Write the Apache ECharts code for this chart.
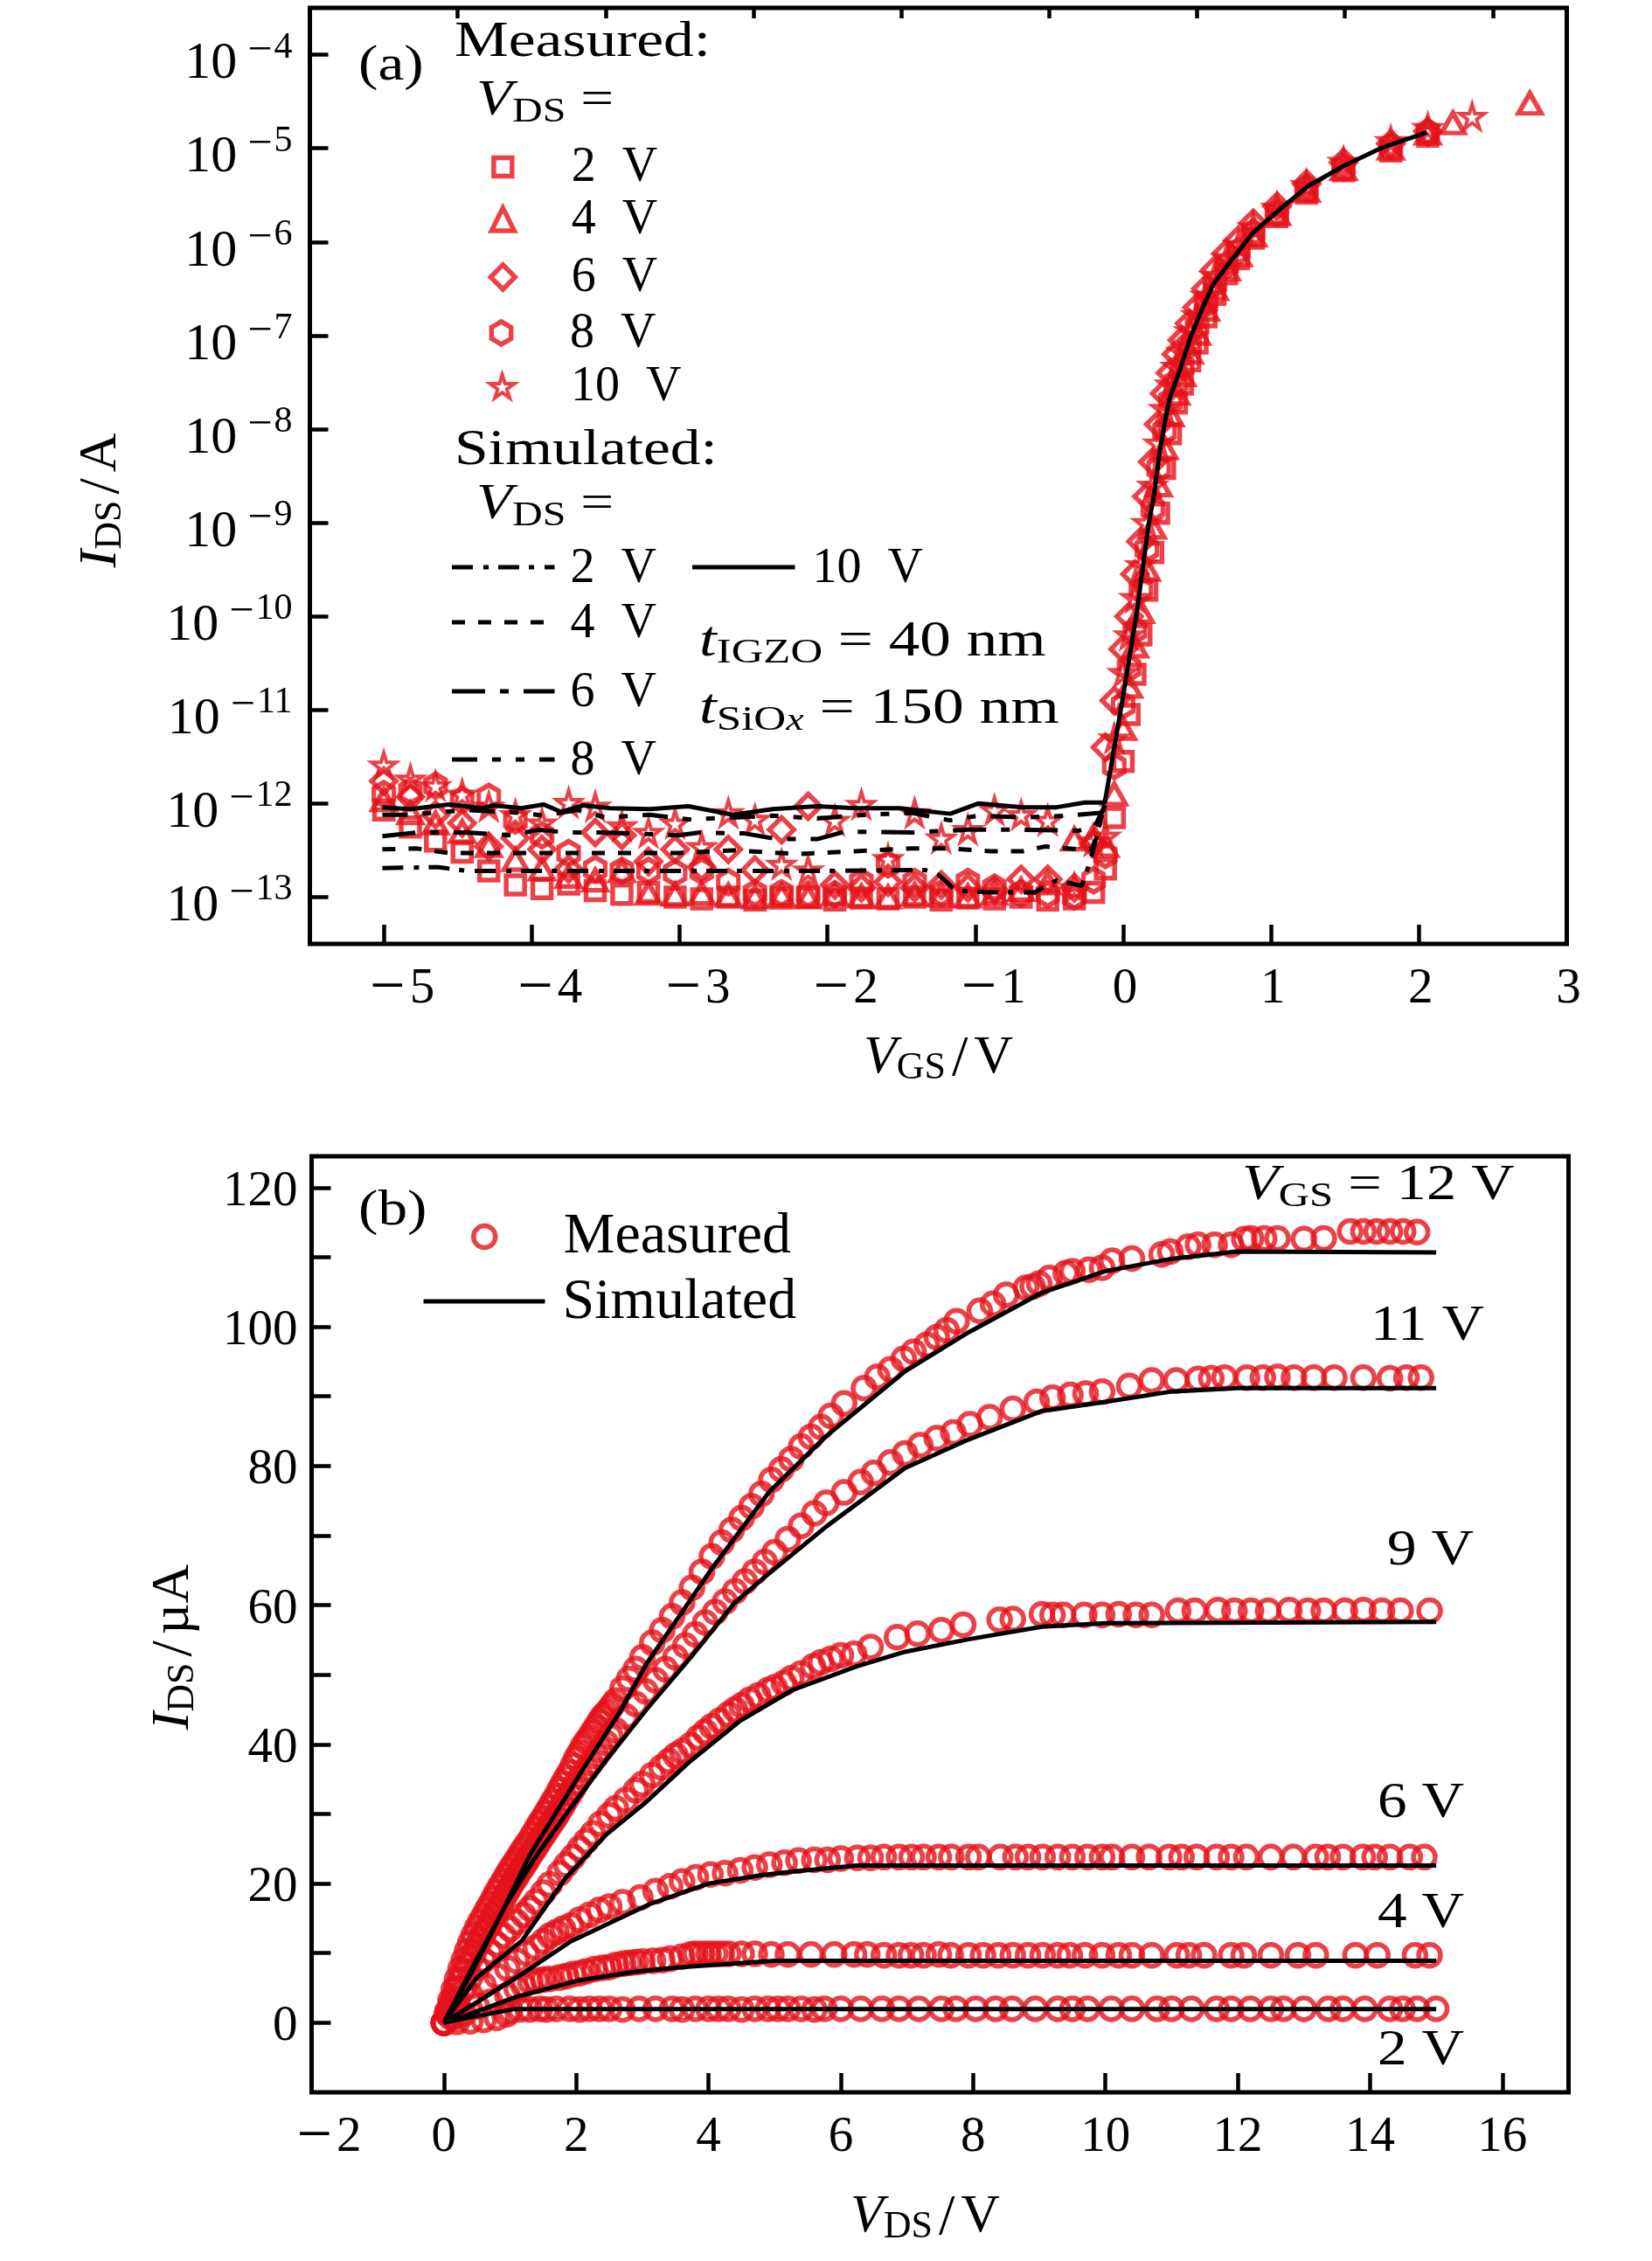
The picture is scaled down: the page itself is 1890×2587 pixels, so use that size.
<![CDATA[<!DOCTYPE html>
<html><head><meta charset="utf-8">
<script src="https://cdn.jsdelivr.net/npm/echarts@6/dist/echarts.min.js"></script>
<style>html,body{margin:0;background:#fff}#c{width:1890px;height:2587px}</style></head>
<body><div id="c"></div>
<script>
// ---------- panel (a): transfer curves, currents given as log10(I / A) ----------
const vgsOff = [-5,-4.82,-4.65,-4.47,-4.29,-4.11,-3.93,-3.75,-3.57,-3.39,-3.21,-3.03,-2.85,-2.67,-2.49,-2.31,-2.13,-1.95,-1.77,-1.59,-1.41,-1.23,-1.05,-0.87,-0.69,-0.51,-0.33,-0.2];
const vgsOn = [-0.12,-0.06,0,0.04,0.08,0.12,0.16,0.2,0.24,0.28,0.32,0.36,0.4,0.45,0.5,0.56,0.62,0.7,0.78,0.88,1.04,1.24,1.49,1.81,2.06];
const logM2 = [-12.07,-12.25,-12.40,-12.52,-12.72,-12.87,-12.91,-12.86,-12.93,-12.97,-12.95,-13.00,-13.02,-13.00,-13.03,-13.01,-13.00,-13.03,-13.01,-13.02,-13.00,-13.03,-13.01,-13.02,-13.00,-13.03,-13.02,-12.95,
  -12.7,-12.15,-11.55,-11.05,-10.62,-10.2,-9.72,-9.32,-8.9,-8.42,-8.05,-7.72,-7.52,-7.27,-7.08,-6.8,-6.56,-6.34,-6.18,-5.96,-5.73,-5.48,-5.24,-5.03,-4.87];
const logM4 = [-11.96,-12.10,-12.21,-12.30,-12.45,-12.60,-12.70,-12.78,-12.82,-12.72,-12.96,-12.97,-12.96,-12.98,-13.00,-12.98,-13.00,-12.97,-12.99,-13.00,-12.97,-12.98,-12.99,-12.96,-12.92,-12.85,-12.38,-12.35,
  -12.45,-11.9,-11.2,-10.75,-10.32,-9.95,-9.5,-9.05,-8.6,-8.2,-7.85,-7.62,-7.42,-7.18,-6.98,-6.72,-6.5,-6.29,-6.14,-5.93,-5.7,-5.45,-5.22,-5.0,-4.84];
const logM6 = [-11.76,-11.93,-12.12,-12.21,-12.46,-12.37,-12.49,-12.70,-12.31,-12.34,-12.62,-12.49,-12.68,-12.49,-12.71,-12.28,-12.03,-12.87,-12.90,-12.84,-12.90,-12.87,-12.90,-12.93,-12.81,-12.81,-12.90,-12.43,
  -11.4,-10.9,-10.35,-10.0,-9.55,-9.2,-8.72,-8.35,-7.95,-7.62,-7.4,-7.2,-7.05,-6.87,-6.7,-6.5,-6.3,-6.12,-5.98,-5.8,-5.62,-5.38,-5.15,-4.95,-4.82];
const logM8 = [-11.90,-11.87,-11.81,-11.96,-11.93,-12.18,-12.34,-12.53,-12.70,-12.72,-12.72,-12.74,-12.72,-12.84,-12.96,-12.96,-12.97,-12.97,-12.84,-12.65,-12.84,-12.96,-12.84,-12.90,-12.96,-12.97,-12.99,-12.82,
  -12.55,-11.6,-10.95,-10.55,-10.15,-9.72,-9.28,-8.85,-8.42,-8.02,-7.7,-7.5,-7.33,-7.1,-6.9,-6.66,-6.45,-6.25,-6.1,-5.9,-5.69,-5.43,-5.2,-4.98,-4.83];
const logM10 = [-11.59,-11.74,-11.81,-11.90,-12.03,-12.12,-12.21,-11.99,-12.03,-12.24,-12.31,-12.21,-12.46,-12.10,-12.17,-12.65,-12.71,-12.18,-12.01,-12.59,-12.10,-12.37,-12.28,-12.07,-12.12,-12.18,-12.90,-12.40,
  -12.35,-11.3,-10.6,-10.2,-9.8,-9.45,-9.0,-8.6,-8.15,-7.78,-7.52,-7.33,-7.17,-6.95,-6.78,-6.57,-6.36,-6.17,-6.03,-5.84,-5.63,-5.39,-5.14,-4.92,-4.78];
const vgsTail4 = [2.23,2.75], logTail4 = [-4.73,-4.52];
const vgsTail10 = [2.36], logTail10 = [-4.66];

const vgsS2 = [-5.01,-4.63,-4.44,-3.69,-2.94,-2.0,-1.34,-1.25,-1.13,-0.9,-0.6,-0.45,-0.28,-0.22,-0.124];
const logS2 = [-12.69,-12.68,-12.72,-12.72,-12.72,-12.72,-12.71,-12.76,-12.93,-12.95,-12.95,-12.82,-12.88,-12.6,-12.02];
const vgsS4 = [-5.01,-4.78,-4.56,-4.26,-3.88,-3.5,-3.01,-2.64,-2.19,-1.81,-1.43,-1.17,-0.9,-0.68,-0.53,-0.3,-0.21,-0.124];
const logS4 = [-12.49,-12.48,-12.53,-12.53,-12.53,-12.53,-12.53,-12.5,-12.54,-12.51,-12.48,-12.48,-12.51,-12.51,-12.46,-12.49,-12.49,-12.02];
const vgsS6 = [-5.01,-4.78,-4.44,-4.14,-3.95,-3.77,-3.54,-3.31,-3.01,-2.86,-2.56,-2.34,-2.07,-1.88,-1.43,-1.05,-0.68,-0.3,-0.19,-0.124];
const logS6 = [-12.35,-12.31,-12.31,-12.34,-12.28,-12.31,-12.31,-12.32,-12.34,-12.31,-12.32,-12.38,-12.38,-12.3,-12.31,-12.28,-12.28,-12.29,-12.24,-12.02];
const vgsS8 = [-5.01,-4.82,-4.44,-4.07,-3.92,-3.69,-3.5,-3.2,-2.94,-2.64,-2.37,-2.07,-1.73,-1.43,-1.17,-0.98,-0.68,-0.38,-0.15,-0.124];
const logS8 = [-12.12,-12.12,-12.07,-12.1,-12.13,-12.07,-12.15,-12.12,-12.17,-12.15,-12.13,-12.16,-12.12,-12.1,-12.18,-12.13,-12.15,-12.13,-12.1,-12.02];
const vgsS10 = [-5.01,-4.82,-4.56,-4.33,-4.26,-4.07,-3.92,-3.8,-3.65,-3.47,-3.2,-2.94,-2.64,-2.37,-2.07,-1.81,-1.51,-1.17,-0.98,-0.68,-0.45,-0.26,-0.124,0,0.095,0.145,0.17,0.21,0.245,0.28,0.315,0.385,0.455,0.525,0.61,0.74,0.88,1.06,1.255,1.49,1.74,2.055];
const logS10 = [-12.04,-12.06,-12.01,-12.05,-12.02,-12.05,-12.01,-12.09,-12.02,-12.05,-12.06,-12.03,-12.12,-12.06,-12.03,-12.05,-12.05,-12.11,-12.0,-12.04,-12.04,-11.99,-11.99,-10.85,-9.93,-9.34,-9.04,-8.69,-8.27,-7.94,-7.67,-7.36,-7.02,-6.75,-6.45,-6.18,-5.9,-5.65,-5.4,-5.19,-5.0,-4.83];

// ---------- panel (b): output curves, currents in microamps ----------
const vdsM2 = [0,0.2,0.4,0.6,0.8,0.95,1.0,1.15,1.3,1.45,1.55,1.7,1.9,2.05,2.2,2.35,2.5,2.7,2.95,3.2,3.45,3.6,3.8,4.0,4.15,4.3,4.5,4.7,4.9,5.05,5.2,5.4,5.6,5.75,6.0,6.3,6.62,6.88,7.18,7.52,7.74,8.04,8.34,8.59,8.94,9.28,9.5,9.73,10.09,10.4,10.78,11.0,11.3,11.68,11.9,12.19,12.5,12.69,13.0,13.37,13.59,13.92,14.3,14.49,14.71,15.0];
const idsM2 = [0,0.1,0.2,0.4,0.7,1.2,1.7,1.9,1.9,2.0,1.9,2.0,2.0,1.9,2.0,2.0,2.0,1.9,2.0,2.0,2.0,1.9,2.0,2.0,2.0,2.0,1.9,2.0,2.0,2.0,2.0,2.0,1.9,2.0,2.0,2.0,2.0,2.0,2.0,2.0,2.0,2.0,2.0,2.0,2.0,2.0,2.0,2.0,2.0,2.0,2.0,2.0,2.0,2.0,2.0,2.0,2.0,2.0,2.0,2.0,2.0,2.0,2.0,2.0,2.0,2.0];
const vdsM4 = [0,0.15,0.3,0.5,0.7,0.96,1.1,1.2,1.31,1.4,1.5,1.6,1.75,1.85,1.95,2.05,2.15,2.28,2.4,2.5,2.6,2.71,2.8,2.9,3.0,3.16,3.3,3.42,3.6,3.73,3.8,3.9,4.0,4.1,4.2,4.3,4.5,4.7,4.95,5.2,5.55,5.9,6.2,6.4,6.65,6.88,7.06,7.25,7.48,7.66,7.93,8.15,8.38,8.6,8.83,9.05,9.28,9.46,9.69,9.95,10.2,10.4,10.7,11.08,11.26,11.49,11.9,12.09,12.5,12.91,13.18,13.78,14.11,14.68,14.9];
const idsM4 = [0,0.7,1.3,2.3,3.0,3.9,4.9,5.4,5.9,6.0,6.2,6.3,6.5,6.7,7.0,7.1,7.4,7.7,7.9,8.0,8.3,8.5,8.6,8.7,8.8,8.9,9.0,9.2,9.5,9.8,9.9,9.9,9.9,9.9,9.9,9.9,9.9,9.9,9.8,9.8,9.8,9.8,9.8,9.8,9.7,9.7,9.7,9.7,9.8,9.7,9.7,9.7,9.7,9.7,9.7,9.7,9.7,9.7,9.7,9.7,9.7,9.7,9.7,9.7,9.7,9.7,9.7,9.7,9.7,9.7,9.7,9.7,9.7,9.7,9.7];
const vdsM6 = [0,0.1,0.2,0.4,0.6,0.8,0.96,1.1,1.25,1.39,1.5,1.6,1.7,1.8,1.92,2.05,2.2,2.35,2.5,2.7,2.97,3.2,3.42,3.6,3.81,4.03,4.25,4.48,4.7,4.92,5.15,5.36,5.6,5.8,6.0,6.25,6.45,6.65,6.88,7.07,7.25,7.48,7.67,7.93,8.08,8.41,8.64,8.83,9.05,9.28,9.5,9.73,9.95,10.1,10.4,10.66,10.96,11.15,11.38,11.68,11.9,12.13,12.5,12.84,13.18,13.36,13.59,13.89,14.07,14.3,14.6,14.82];
const idsM6 = [0,0.8,2.5,4.0,5.4,6.7,7.8,8.9,10.0,10.8,11.7,12.5,13.0,13.5,14.0,14.8,15.5,16.2,16.7,17.3,18.0,18.9,19.6,20.3,20.9,21.3,21.5,21.9,22.3,22.7,23.0,23.3,23.4,23.4,23.6,23.7,23.7,23.8,23.8,23.8,23.8,23.8,23.8,23.8,23.8,23.8,23.8,23.8,23.8,23.8,23.8,23.8,23.8,23.8,23.8,23.8,23.8,23.8,23.8,23.8,23.8,23.8,23.8,23.8,23.8,23.8,23.8,23.8,23.8,23.8,23.8,23.8];
const vdsM9 = [0,0.1,0.2,0.3,0.4,0.5,0.6,0.7,0.8,0.9,1,1.1,1.2,1.3,1.39,1.5,1.6,1.75,1.85,1.95,2.05,2.15,2.25,2.37,2.5,2.6,2.75,2.9,3,3.15,3.29,3.4,3.5,3.6,3.73,3.85,3.95,4.05,4.17,4.3,4.4,4.5,4.62,4.75,4.9,5,5.14,5.25,5.4,5.58,5.7,5.85,6,6.2,6.45,6.85,7.16,7.52,7.85,8.4,8.6,9.04,9.2,9.36,9.68,9.95,10.2,10.46,10.7,11.1,11.35,11.7,11.95,12.2,12.46,12.78,13.06,13.3,13.62,13.9,14.18,14.46,14.9];
const idsM9 = [0,1.8,3.4,5,6.5,7.9,9,10.2,11.3,12.5,13.5,14.5,15.5,16.4,17.4,18.7,19.9,21.5,22.7,23.8,25,26.1,27.2,28.6,29.8,30.8,32,33.4,34.3,35.6,36.7,37.6,38.4,39,39.9,41,41.8,42.6,43.4,44.3,45,45.6,46.4,47,47.8,48.2,48.8,49.5,50.2,51.2,51.8,52.3,52.8,53,54,55.4,55.9,56.4,57.2,57.9,58,58.7,58.6,58.6,58.6,58.6,58.7,58.6,58.6,59.2,59.2,59.3,59.2,59.2,59.2,59.3,59.2,59.2,59.2,59.3,59.2,59.2,59.2];
const vdsM11 = [0,0.05,0.1,0.15,0.2,0.25,0.3,0.35,0.4,0.45,0.5,0.55,0.6,0.65,0.7,0.75,0.8,0.85,0.9,0.95,1,1.05,1.1,1.15,1.2,1.25,1.3,1.35,1.4,1.45,1.5,1.55,1.6,1.65,1.7,1.75,1.8,1.85,1.9,1.95,2,2.07,2.15,2.22,2.3,2.37,2.45,2.52,2.6,2.75,2.9,3.05,3.2,3.35,3.5,3.65,3.8,3.95,4.1,4.25,4.4,4.55,4.7,4.85,5,5.2,5.4,5.6,5.78,6.05,6.3,6.5,6.75,6.97,7.2,7.45,7.7,7.95,8.25,8.6,8.96,9.2,9.47,9.7,9.95,10.36,10.7,11.07,11.4,11.6,11.8,12.14,12.38,12.6,12.85,13.15,13.46,13.9,14.3,14.55,14.77];
const idsM11 = [0,1.3,2.6,3.8,5,6.1,7.2,8.2,9.2,10.1,11,11.9,12.8,13.6,14.5,15.4,16.2,17,17.9,18.7,19.5,20.3,21,21.8,22.5,23.2,24,24.7,25.4,26.2,26.9,27.6,28.3,29,29.7,30.5,31.3,32.1,32.9,33.6,34.4,35.4,36.4,37.3,38.3,39.2,40.2,41.1,42,44,45.8,47.6,49.2,50.8,52.5,54.2,55.8,57.5,59,60.5,62,63.4,64.8,66.2,67.6,69.5,71.4,73.2,74.7,76.2,77.7,79,80.5,81.8,83,84,84.8,86,87,88.2,89.2,89.8,90.2,90.4,90.7,91.5,92.3,92.3,92.5,92.6,92.7,92.7,92.7,92.8,92.7,92.7,92.7,92.7,92.6,92.7,92.7];
const vdsM12 = [0,0.05,0.1,0.15,0.2,0.25,0.3,0.35,0.4,0.45,0.5,0.55,0.6,0.65,0.7,0.75,0.8,0.85,0.9,0.95,1,1.05,1.1,1.15,1.2,1.25,1.3,1.35,1.4,1.45,1.5,1.55,1.6,1.65,1.7,1.75,1.8,1.85,1.9,1.95,2,2.05,2.1,2.15,2.2,2.25,2.3,2.35,2.4,2.45,2.5,2.55,2.6,2.7,2.8,2.9,3,3.15,3.3,3.45,3.6,3.75,3.9,4.05,4.2,4.35,4.5,4.65,4.8,4.95,5.1,5.25,5.4,5.55,5.7,5.85,6.05,6.35,6.55,6.75,6.95,7.1,7.3,7.45,7.6,7.75,8.1,8.3,8.5,8.8,8.9,9.0,9.15,9.4,9.5,9.75,9.95,10.1,10.4,10.85,10.98,11.25,11.4,11.65,11.9,12.1,12.2,12.4,12.6,13.0,13.3,13.7,13.9,14.1,14.3,14.5,14.71];
const idsM12 = [0,1.6,3.2,4.8,6.3,7.7,9,10.3,11.5,12.6,13.6,14.5,15.3,16.2,17,17.9,18.8,19.6,20.4,21.2,22,22.7,23.4,24.2,24.9,25.6,26.3,27.1,27.9,28.7,29.4,30.2,31,31.8,32.6,33.5,34.4,35.2,36,37,38,38.8,39.7,40.4,41,41.8,42.5,43.3,44,44.5,45,45.7,46.3,48,49.4,50.8,52.5,54.6,56.4,58.4,60.4,62.5,64.8,67,69,70.8,72.5,74.2,76,78,79.5,81,82.8,84.2,85.6,87.2,89,91.2,92.8,93.9,95.4,96.4,97.4,98.5,99.5,100.8,102.3,103.3,104.6,105.6,105.8,106.2,107,107.7,108,108.2,108.5,109.5,109.8,110.4,110.8,111.5,111.8,111.8,111.8,112.6,112.7,112.7,112.7,112.6,112.7,113.7,113.7,113.7,113.7,113.7,113.6];

const vdsS2 = [0,0.3,1.05,15], idsS2 = [0,0.6,1.95,1.95];
const vdsS4 = [0,0.3,1.09,2.0,2.94,3.6,5,15], idsS4 = [0,0.9,3.7,6.0,7.4,8.0,8.9,8.9];
const vdsS6 = [0,1.18,1.92,3.1,4,4.8,5.27,6.24,15], idsS6 = [0,7,11.7,17,20,21.2,21.7,22.6,22.6];
const vdsS9 = [0,0.5,1.18,1.84,2.45,3.03,3.69,4.48,5.27,6.24,6.97,7.93,9.04,10,15], idsS9 = [0,6.5,11.8,20.8,27,31.5,37.3,43.4,47.8,51.2,53.3,55.1,56.9,57.4,57.6];
const vdsS11 = [0,0.47,0.96,1.39,1.88,2.45,3.07,3.73,4.39,4.92,5.78,6.97,7.93,9.04,10,11,12,15], idsS11 = [0,8.7,17.3,23.9,30.4,37.7,45.1,52.5,60.3,64.6,71.3,79.7,83.8,87.9,89.2,90.7,91.2,91.2];
const vdsS12 = [0,0.43,0.91,1.31,1.71,2.1,2.63,3.07,3.6,4.03,4.92,5.78,6.97,7.93,9.04,10,10.96,11.98,15], idsS12 = [0,7.4,16.5,24.3,30.4,36.4,44.2,51.7,59,65,76.3,84.3,93.6,99.2,104.9,108,109.7,110.8,110.7];

// ---------- ticks ----------
const xTicksA = [-5,-4,-3,-2,-1,0,1,2,3];
const xMinorA = [-4.5,-3.5,-2.5,-1.5,-0.5,0.5,1.5,2.5];
const yTicksA = [1e-13,1e-12,1e-11,1e-10,1e-9,1e-8,1e-7,1e-6,1e-5,1e-4];
const xTicksB = [-2,0,2,4,6,8,10,12,14,16];
const yTicksB = [0,10,20,30,40,50,60,70,80,90,100,110,120];
const yLabelsB = [0,20,40,60,80,100,120];

// ---------- styling ----------
const RED = '#e6121a', SERIF = 'Liberation Serif';
const tickFs = 57, textFs = 56;
const SYM_HEX = 'path://M50 0L93 25L93 75L50 100L7 75L7 25Z';
const SYM_STAR = 'path://M50 0L61 35L98 35L68 57L79 91L50 70L21 91L32 57L2 35L39 35Z';
const D2 = [24,12,6,11,24,11,6,12], D4 = [15,15], D6 = [38,17,10,17], D8 = [29,17,10,17,10,17];

const zip = (xs, ys) => xs.map((x, i) => [x, ys[i]]);
const zipLog = (xs, es) => xs.map((x, i) => [x, Math.pow(10, es[i])]);
const hollow = {color:'rgba(0,0,0,0)', borderColor:RED, borderWidth:5.5};
const hollowStar = {color:'rgba(0,0,0,0)', borderColor:RED, borderWidth:4};
const sc = (name, xi, yi, data, symbol, size, st) => ({type:'scatter', name, xAxisIndex:xi, yAxisIndex:yi, data, symbol, symbolSize:size, itemStyle:st||hollow, silent:true, z:2, animation:false});
const ln = (name, xi, yi, data, dash) => ({type:'line', name, xAxisIndex:xi, yAxisIndex:yi, data, showSymbol:false, symbol:'none', lineStyle:{color:'#000', width:5, type:dash||'solid', cap:'butt'}, itemStyle:{color:'#000'}, silent:true, z:3, animation:false});

const sub = {fontFamily:SERIF, fontSize:40, lineHeight:40, verticalAlign:'bottom', color:'#000', fill:'#000'};
const RICH = {
  i:{fontFamily:SERIF, fontStyle:'italic', fontSize:textFs, lineHeight:60, padding:[0,0,6,0], verticalAlign:'top', color:'#000', fill:'#000'},
  r:{fontFamily:SERIF, fontSize:textFs, lineHeight:60, padding:[0,0,6,0], verticalAlign:'top', color:'#000', fill:'#000'},
  s:sub,
  x:Object.assign({}, sub, {fontStyle:'italic', fontSize:36})
};
const TITLE = {
  i:{fontFamily:SERIF, fontStyle:'italic', fontSize:62, lineHeight:64, padding:[0,0,6,0], verticalAlign:'top', color:'#000'},
  r:{fontFamily:SERIF, fontSize:62, lineHeight:64, padding:[0,0,6,0], verticalAlign:'top', color:'#000'},
  l:{fontFamily:SERIF, fontSize:66, lineHeight:64, padding:[0,7,6,7], verticalAlign:'top', color:'#000'},
  s:Object.assign({}, sub, {fontSize:44})
};
const T = (x, y, text, align, sx) => ({type:'text', x, y:y + 4, scaleX:sx || 1.2, silent:true, z:10, style:{text, rich:RICH, align:align||'left', verticalAlign:'middle', fontFamily:SERIF, fontSize:textFs, fill:'#000'}});

const yLabelA = v => '{b|10}{m|\u2212}{s|' + Math.round(-Math.log10(v)) + '}';
const xLabel = v => v < 0 ? '{n|\u2212}{d|' + (-v) + '}' : '{p|' + v + '}';
const tickText = {fontFamily:SERIF, fontSize:tickFs, color:'#000'};
const xRich = (pad, padN) => ({
  n:{fontFamily:SERIF, fontSize:72, lineHeight:60, color:'#000', padding:[0,5,0,padN]},
  d:{...tickText, lineHeight:60},
  p:{...tickText, lineHeight:60, padding:[0,0,0,pad]}
});

const axisLine = {show:false, onZero:false};
const tick = (vals, len) => ({show:true, inside:true, length:len, customValues:vals, lineStyle:{color:'#000', width:4.5}});

const chart = echarts.init(document.getElementById('c'), null, {renderer:'canvas', width:1890, height:2587});

const legendRich = fs => ({a:{fontFamily:SERIF, fontSize:fs, lineHeight:60, color:'#000'}, b:{fontFamily:SERIF, fontSize:fs, lineHeight:60, color:'#000', padding:[0,0,0,16]}});
const legendText = n => {
  const m = n.match(/^(?:Measured|Simulated) (\d+) V$/);
  return m ? '{a|' + m[1] + ' }{b|V}' : '{a|' + n + '}';
};
const legends = [];
function addLegend(name, xc, yc, size, textX, fs, bw){
  // one legend per row, so the rows can keep the reference's uneven spacing
  legends.push({data:[name], left:xc - size / 2, top:yc - 30, padding:0, orient:'vertical', itemWidth:size, itemHeight:size, selectedMode:false,
    itemStyle:{borderWidth:bw||5.5}, formatter:legendText,
    textStyle:{fontFamily:SERIF, fontSize:fs||textFs, lineHeight:60, color:'#000', padding:[2,0,0,textX - xc - size / 2 - 5 - 3], rich:legendRich(fs||textFs)}});
}
function addLineLegend(name, x0, x1, yc, textX, fs){
  legends.push({data:[name], left:x0, top:yc - 30, padding:0, orient:'vertical', itemWidth:x1 - x0, itemHeight:2, selectedMode:false,
    itemStyle:{color:'rgba(0,0,0,0)', borderColor:'rgba(0,0,0,0)', borderWidth:0},
    lineStyle:{width:5, type:'inherit', cap:'butt'}, formatter:legendText,
    textStyle:{fontFamily:SERIF, fontSize:fs||textFs, lineHeight:60, color:'#000', padding:[4,0,0,textX - x1 - 5 - 4], rich:legendRich(fs||textFs)}});
}
addLegend('Measured 2 V', 572.6, 190, 21, 654);
addLegend('Measured 4 V', 572.6, 250, 26, 654);
addLegend('Measured 6 V', 572.6, 316, 28, 654);
addLegend('Measured 8 V', 572.6, 380, 26, 654);
addLegend('Measured 10 V', 572.6, 441, 28, 654, null, 4);
addLineLegend('Simulated 2 V', 514.5, 632, 647, 654);
addLineLegend('Simulated 4 V', 514.5, 632, 710, 654);
addLineLegend('Simulated 6 V', 514.5, 632, 789, 654);
addLineLegend('Simulated 8 V', 514.5, 632, 867, 654);
addLineLegend('Simulated 10 V', 789.5, 907, 647, 931);
addLegend('Measured', 551.5, 1413, 25, 645, 66);
addLineLegend('Simulated', 482, 621, 1487, 645, 66);

chart.setOption({
  animation:false,
  backgroundColor:'#fff',
  grid:[
    {left:354.5, top:9, width:1438, height:1071, show:true, borderColor:'#000', borderWidth:5, backgroundColor:'transparent', containLabel:false},
    {left:356.5, top:1323, width:1438, height:1071, show:true, borderColor:'#000', borderWidth:5, backgroundColor:'transparent', containLabel:false}
  ],
  xAxis:[
    {gridIndex:0, type:'value', min:-5.5, max:3, interval:0.5, splitLine:{show:false}, axisLine,
      axisTick:tick(xTicksA, 22),
      axisLabel:{customValues:xTicksA, margin:22, formatter:xLabel, ...tickText, rich:xRich(4, 42)},
      name:'{i|V}{s|GS}{l|/}{r|V}', nameLocation:'middle', nameGap:100, nameTextStyle:{rich:TITLE, fontFamily:SERIF}},
    {gridIndex:0, type:'value', min:-5.5, max:3, interval:0.5, splitLine:{show:false}, axisLine, axisLabel:{show:false}, axisTick:tick(xMinorA, 12)},
    {gridIndex:1, type:'value', min:-2, max:17, interval:1, splitLine:{show:false}, axisLine,
      axisTick:tick(xTicksB, 22),
      axisLabel:{customValues:xTicksB, margin:22, formatter:xLabel, ...tickText, rich:xRich(0, 40)},
      name:'{i|V}{s|DS}{l|/}{r|V}', nameLocation:'middle', nameGap:112, nameTextStyle:{rich:TITLE, fontFamily:SERIF, padding:[0,34,0,0]}}
  ],
  yAxis:[
    {gridIndex:0, type:'log', logBase:10, min:Math.pow(10,-13.5), max:Math.pow(10,-3.5), splitLine:{show:false}, minorTick:{show:false}, axisLine,
      axisTick:tick(yTicksA, 21),
      axisLabel:{customValues:yTicksA, margin:20, formatter:yLabelA, ...tickText,
        rich:{
          b:{...tickText, fontSize:60, lineHeight:58, padding:[10,0,0,0], verticalAlign:'top'},
          m:{fontFamily:SERIF, fontSize:50, lineHeight:42, padding:[0,2,0,12], verticalAlign:'top', color:'#000'},
          s:{fontFamily:SERIF, fontSize:42, lineHeight:42, verticalAlign:'top', color:'#000'}}},
      name:'{i|I}{s|DS}{l|/}{r|A}', nameLocation:'middle', nameRotate:90, nameGap:206, nameTextStyle:{rich:TITLE, fontFamily:SERIF, padding:[0,56,0,0]}},
    {gridIndex:1, type:'value', min:-10, max:124.5, interval:10, splitLine:{show:false}, axisLine,
      axisTick:tick(yTicksB, 22),
      axisLabel:{customValues:yLabelsB, margin:16, formatter:v => '{v|' + v + '}', ...tickText, rich:{v:{...tickText, lineHeight:60, padding:[10,0,0,0]}}},
      name:'{i|I}{s|DS}{l|/}{r|\u00b5A}', nameLocation:'middle', nameRotate:90, nameGap:125, nameTextStyle:{rich:TITLE, fontFamily:SERIF, padding:[0,52,0,0]}}
  ],
  legend:legends,
  series:[
    sc('Measured 2 V',0,0,zipLog(vgsOff.concat(vgsOn),logM2),'rect',21),
    sc('Measured 4 V',0,0,zipLog(vgsOff.concat(vgsOn,vgsTail4),logM4.concat(logTail4)),'triangle',[26,23]),
    sc('Measured 6 V',0,0,zipLog(vgsOff.concat(vgsOn),logM6),'diamond',[28,28]),
    sc('Measured 8 V',0,0,zipLog(vgsOff.concat(vgsOn),logM8),SYM_HEX,[23,27]),
    sc('Measured 10 V',0,0,zipLog(vgsOff.concat(vgsOn,vgsTail10),logM10.concat(logTail10)),SYM_STAR,[28,28],hollowStar),
    ln('Simulated 2 V',0,0,zipLog(vgsS2,logS2),D2),
    ln('Simulated 4 V',0,0,zipLog(vgsS4,logS4),D4),
    ln('Simulated 6 V',0,0,zipLog(vgsS6,logS6),D6),
    ln('Simulated 8 V',0,0,zipLog(vgsS8,logS8),D8),
    ln('Simulated 10 V',0,0,zipLog(vgsS10,logS10)),
    sc('Measured',2,1,zip(vdsM2,idsM2),'circle',25),
    sc('Measured',2,1,zip(vdsM4,idsM4),'circle',25),
    sc('Measured',2,1,zip(vdsM6,idsM6),'circle',25),
    sc('Measured',2,1,zip(vdsM9,idsM9),'circle',25),
    sc('Measured',2,1,zip(vdsM11,idsM11),'circle',25),
    sc('Measured',2,1,zip(vdsM12,idsM12),'circle',25),
    ln('Simulated',2,1,zip(vdsS2,idsS2)),
    ln('Simulated',2,1,zip(vdsS4,idsS4)),
    ln('Simulated',2,1,zip(vdsS6,idsS6)),
    ln('Simulated',2,1,zip(vdsS9,idsS9)),
    ln('Simulated',2,1,zip(vdsS11,idsS11)),
    ln('Simulated',2,1,zip(vdsS12,idsS12))
  ],
  graphic:[
    T(410,74,'{r|(a)}'),
    T(520,47,'{r|Measured:}',null,1.24),
    T(545,114,'{i|V}{s|DS}{r| =}'),
    T(520,514,'{r|Simulated:}',null,1.24),
    T(545,576,'{i|V}{s|DS}{r| =}'),
    T(800,733,'{i|t}{s|IGZO}{r| = 40 nm}',null,1.27),
    T(800,810,'{i|t}{s|SiO}{x|x}{r| = 150 nm}',null,1.275),
    T(410,1384,'{r|(b)}'),
    T(1421,1355,'{i|V}{s|GS}{r| = 12 V}',null,1.22),
    T(1698,1516,'{r|11 V}','right'),
    T(1686,1773,'{r|9 V}','right'),
    T(1675,2062,'{r|6 V}','right'),
    T(1675,2188,'{r|4 V}','right'),
    T(1675,2345,'{r|2 V}','right')
  ]
});
</script></body></html>]]>
